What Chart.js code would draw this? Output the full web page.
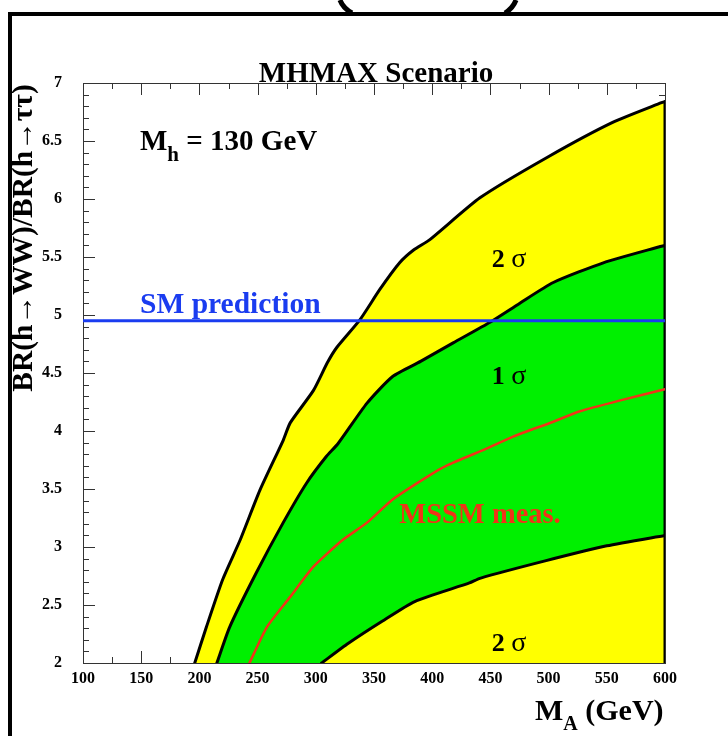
<!DOCTYPE html>
<html lang="en">
<head>
<meta charset="UTF-8">
<title>MHMAX Scenario</title>
<script src="https://cdn.jsdelivr.net/npm/chart.js"></script>
<style>
  body { margin: 0; background: #fff; }
  canvas { display: block; }
</style>
</head>
<body>
<canvas id="chart" width="728" height="736"></canvas>
<script>
  // 2 sigma contour, upper-left edge
  const outerMA = [196, 206, 220, 235, 252, 272, 278, 298, 310, 318, 338, 355, 372, 384, 398, 441, 499, 555, 597, 600];
  const outerBR = [2.0, 2.31, 2.72, 3.06, 3.49, 3.92, 4.07, 4.35, 4.59, 4.72, 4.96, 5.22, 5.45, 5.56, 5.65, 6.01, 6.36, 6.66, 6.83, 6.84];

  // contour closing edge at M_A = 600
  const edgeMA = [600, 600];
  const edgeBR = [6.84, 2.0];

  // 1 sigma contour, upper edge
  const upperMA = [215, 226, 249, 272, 292, 309, 319, 344, 366, 390, 418, 450, 475, 504, 547, 596, 600];
  const upperBR = [2.0, 2.31, 2.78, 3.21, 3.55, 3.78, 3.89, 4.24, 4.47, 4.60, 4.76, 4.94, 5.10, 5.28, 5.45, 5.59, 5.60];

  // 1 sigma contour, lower edge
  const lowerMA = [305, 328, 357, 385, 432, 441, 497, 550, 600];
  const lowerBR = [2.0, 2.17, 2.36, 2.53, 2.69, 2.73, 2.88, 3.01, 3.10];

  // MSSM measurement
  const mssmMA = [243, 258, 278, 298, 323, 344, 366, 398, 412, 447, 469, 504, 527, 560, 600];
  const mssmBR = [2.0, 2.31, 2.57, 2.83, 3.06, 3.21, 3.41, 3.62, 3.70, 3.85, 3.95, 4.08, 4.17, 4.26, 4.36];

  // SM prediction
  const smMA = [100, 600];
  const smBR = [4.95, 4.95];

  const xTicks = [100, 150, 200, 250, 300, 350, 400, 450, 500, 550, 600];
  const yTicks = [2, 2.5, 3, 3.5, 4, 4.5, 5, 5.5, 6, 6.5, 7];

  const SERIF = '"Liberation Serif", "DejaVu Serif", serif';
  const pts = (xs, ys) => xs.map((v, i) => ({ x: v, y: ys[i] }));

  function drawRuns(ctx, x, y, runs) {
    for (const [t, f, dy] of runs) {
      ctx.font = f;
      ctx.fillText(t, x, y + (dy || 0));
      x += ctx.measureText(t).width;
    }
    return x;
  }
  function runsWidth(ctx, runs) {
    let w = 0;
    for (const [t, f] of runs) { ctx.font = f; w += ctx.measureText(t).width; }
    return w;
  }

  const frame = {
    id: 'frame',
    beforeDraw(chart) {
      const { ctx, chartArea: a, scales: { x, y } } = chart;
      ctx.save();
      // page frame and cut-off bracket above
      ctx.strokeStyle = '#000';
      ctx.lineWidth = 4;
      ctx.beginPath();
      ctx.moveTo(10, 736); ctx.lineTo(10, 14); ctx.lineTo(728, 14);
      ctx.stroke();
      ctx.lineWidth = 5;
      ctx.beginPath();
      ctx.moveTo(340, 0); ctx.quadraticCurveTo(343, 8, 352, 13);
      ctx.moveTo(516, 0); ctx.quadraticCurveTo(513, 8, 505, 13);
      ctx.stroke();

      // plot box with inside ticks
      ctx.strokeStyle = '#333';
      ctx.lineWidth = 1;
      ctx.strokeRect(a.left + 0.5, a.top + 0.5, a.right - a.left, a.bottom - a.top);
      ctx.beginPath();
      for (let v = x.min; v <= x.max; v += 25) {
        const px = Math.round(x.getPixelForValue(v)) + 0.5;
        const len = v % 50 === 0 ? 12 : 6;
        ctx.moveTo(px, a.bottom); ctx.lineTo(px, a.bottom - len);
        ctx.moveTo(px, a.top); ctx.lineTo(px, a.top + len);
      }
      for (let i = 0; i <= 50; i++) {
        const py = Math.round(y.getPixelForValue(y.min + i * 0.1)) + 0.5;
        const len = i % 5 === 0 ? 12 : 6;
        ctx.moveTo(a.left, py); ctx.lineTo(a.left + len, py);
        ctx.moveTo(a.right, py); ctx.lineTo(a.right - len, py);
      }
      ctx.stroke();
      ctx.restore();
    },
    afterDraw(chart) {
      const { ctx } = chart;
      ctx.save();
      ctx.fillStyle = '#000';
      ctx.textBaseline = 'alphabetic';

      // title
      ctx.textAlign = 'center';
      ctx.font = 'bold 29px ' + SERIF;
      ctx.fillText('MHMAX Scenario', 376, 82);

      ctx.textAlign = 'left';
      // M_h = 130 GeV
      drawRuns(ctx, 140, 150, [
        ['M', 'bold 29px ' + SERIF],
        ['h', 'bold 21px ' + SERIF, 11],
        [' = 130 GeV', 'bold 29px ' + SERIF]
      ]);

      // SM prediction
      ctx.fillStyle = '#1a3cf0';
      ctx.font = 'bold 29.5px ' + SERIF;
      ctx.fillText('SM prediction', 140, 313);

      // MSSM meas.
      ctx.fillStyle = '#f03418';
      ctx.textAlign = 'center';
      ctx.font = 'bold 28.5px ' + SERIF;
      ctx.fillText('MSSM meas.', 480, 523);

      // sigma labels
      ctx.fillStyle = '#000';
      ctx.textAlign = 'left';
      const sig = (t, cx, base) => {
        const runs = [[t + ' ', 'bold 26px ' + SERIF], ['\u03c3', '28px ' + SERIF]];
        drawRuns(ctx, cx - runsWidth(ctx, runs) / 2, base, runs);
      };
      sig('2', 509, 267);
      sig('1', 509, 384);
      sig('2', 509, 651);

      // x axis title
      drawRuns(ctx, 535, 720, [
        ['M', 'bold 30px ' + SERIF],
        ['A', 'bold 20px ' + SERIF, 10],
        [' (GeV)', 'bold 30px ' + SERIF]
      ]);

      // y axis title
      ctx.translate(24, 238);
      ctx.rotate(-Math.PI / 2);
      ctx.textAlign = 'center';
      ctx.textBaseline = 'middle';
      ctx.font = 'bold 29.5px ' + SERIF;
      ctx.fillText('BR(h\u2192WW)/BR(h\u2192\u03c4\u03c4)', 0, 0);
      ctx.restore();
    }
  };

  new Chart(document.getElementById('chart'), {
    type: 'line',
    data: {
      datasets: [
        { data: pts(smMA, smBR), borderColor: '#1a3cf0', borderWidth: 3, fill: false, tension: 0, order: 1 },
        { data: pts(mssmMA, mssmBR), borderColor: '#f03418', borderWidth: 2.5, fill: false, order: 2 },
        { data: pts(edgeMA, edgeBR), borderColor: '#000', borderWidth: 3, fill: false, tension: 0, order: 3 },
        { data: pts(lowerMA, lowerBR), borderColor: '#000', borderWidth: 3, backgroundColor: '#ffff00', fill: 'start', order: 4 },
        { data: pts(upperMA, upperBR), borderColor: '#000', borderWidth: 3, backgroundColor: '#00f000', fill: 'start', order: 5 },
        { data: pts(outerMA, outerBR), borderColor: '#000', borderWidth: 3, backgroundColor: '#ffff00', fill: 'start', order: 6 }
      ]
    },
    options: {
      responsive: false,
      devicePixelRatio: 1,
      animation: false,
      events: [],
      elements: { point: { radius: 0 }, line: { tension: 0.2, borderCapStyle: 'round', borderJoinStyle: 'round' } },
      layout: { padding: { left: 0, top: 83, right: 63, bottom: 0 } },
      plugins: {
        legend: { display: false },
        tooltip: { enabled: false },
        filler: { drawTime: 'beforeDatasetsDraw' }
      },
      scales: {
        x: {
          type: 'linear', min: 100, max: 600,
          afterBuildTicks: s => { s.ticks = xTicks.map(v => ({ value: v })); },
          afterFit: s => { s.height = 73; },
          grid: { display: false, drawTicks: false },
          border: { display: false },
          ticks: { color: '#000', padding: 6, maxRotation: 0, autoSkip: false, font: { family: SERIF, size: 16, weight: 'bold' } }
        },
        y: {
          type: 'linear', min: 2, max: 7,
          afterBuildTicks: s => { s.ticks = yTicks.map(v => ({ value: v })); },
          afterFit: s => { s.width = 83; },
          grid: { display: false, drawTicks: false },
          border: { display: false },
          ticks: {
            color: '#000', padding: 21, autoSkip: false,
            font: { family: SERIF, size: 16, weight: 'bold' },
            callback: v => String(v)
          }
        }
      }
    },
    plugins: [frame]
  });
</script>
</body>
</html>
